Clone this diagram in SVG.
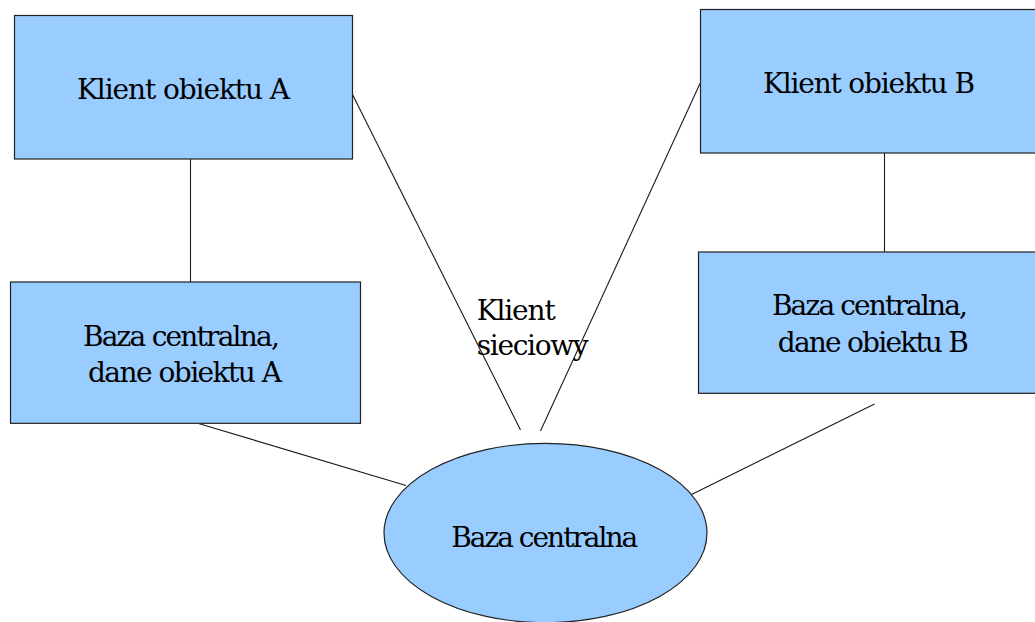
<svg xmlns="http://www.w3.org/2000/svg" width="1035" height="622" viewBox="0 0 1035 622">
  <style>
    .shape { fill: #99ccff; stroke: #222222; stroke-width: 1.2; }
    .conn { stroke: #1a1a1a; stroke-width: 1.1; fill: none; }
    .lbl { font-family: 'DejaVu Serif', 'Liberation Serif', serif; font-size: 28px; fill: #000000; }
    .mid { text-anchor: middle; }
  </style>
  <rect width="1035" height="622" fill="#ffffff"/>
  <g id="connectors">
    <line class="conn" x1="190.5" y1="159" x2="190.5" y2="282"/>
    <line class="conn" x1="884.5" y1="153" x2="884.5" y2="252"/>
    <line class="conn" x1="352.5" y1="94.5" x2="520.5" y2="430"/>
    <line class="conn" x1="700" y1="83.5" x2="540.5" y2="431"/>
    <line class="conn" x1="198.5" y1="423.5" x2="406" y2="485.5"/>
    <line class="conn" x1="874.5" y1="404" x2="686.5" y2="497"/>
  </g>
  <g id="klient-obiektu-a">
    <rect class="shape" x="14.5" y="15.5" width="338" height="143.5"/>
    <text class="lbl mid" x="183.5" y="99" textLength="213" lengthAdjust="spacing">Klient obiektu A</text>
  </g>
  <g id="klient-obiektu-b">
    <rect class="shape" x="700.5" y="9.5" width="340" height="143.5"/>
    <text class="lbl mid" x="869" y="92.7" textLength="212" lengthAdjust="spacing">Klient obiektu B</text>
  </g>
  <g id="baza-a">
    <rect class="shape" x="10.5" y="282" width="350" height="141.3"/>
    <text class="lbl mid" x="181.4" y="346" textLength="197" lengthAdjust="spacing">Baza centralna,</text>
    <text class="lbl mid" x="184.9" y="382.3" textLength="194" lengthAdjust="spacing">dane obiektu A</text>
  </g>
  <g id="baza-b">
    <rect class="shape" x="698.5" y="252" width="350" height="141.3"/>
    <text class="lbl mid" x="869.9" y="315" textLength="196" lengthAdjust="spacing">Baza centralna,</text>
    <text class="lbl mid" x="873.3" y="351.7" textLength="191" lengthAdjust="spacing">dane obiektu B</text>
  </g>
  <g id="klient-sieciowy">
    <text class="lbl" x="476.7" y="320" textLength="79" lengthAdjust="spacing">Klient</text>
    <text class="lbl" x="476.7" y="355" textLength="112" lengthAdjust="spacing">sieciowy</text>
  </g>
  <g id="baza-centralna">
    <ellipse class="shape" cx="545.5" cy="533" rx="161.5" ry="89.7"/>
    <text class="lbl mid" x="544.7" y="546.7" textLength="187" lengthAdjust="spacing">Baza centralna</text>
  </g>
</svg>
